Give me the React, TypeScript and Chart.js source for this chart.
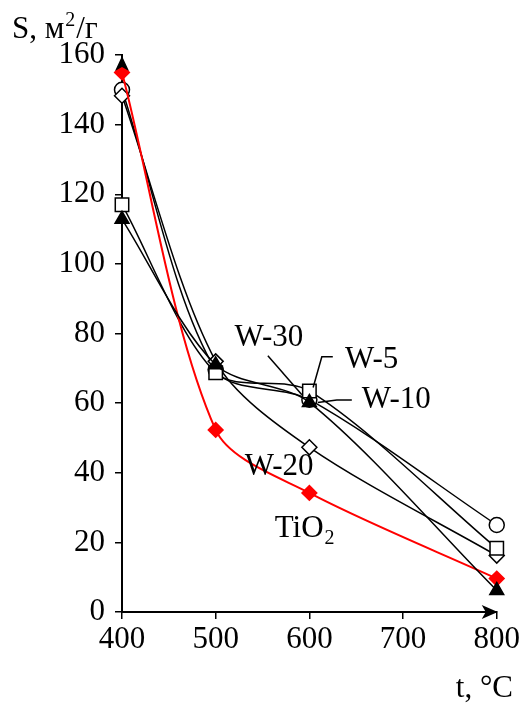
import React, { useEffect, useRef } from "react";
import { Chart, registerables } from "chart.js";

Chart.register(...registerables);

// Calcination temperature, °C
const temps = [400, 500, 600, 800];
// Specific surface area, m²/g
const tio2 = [155, 52.3, 34.2, 9.6];
const w5 = [117, 68.7, 63.5, 18.3];
const w10 = [112.8, 71, 60.2, 6.2];
const w20 = [148.3, 72, 47.3, 16.2];
const w30 = [150, 69.5, 61, 25];

const xTicks = [400, 500, 600, 700, 800];
const yTicks = [0, 20, 40, 60, 80, 100, 120, 140, 160];

// Series labels, anchored in data units (left edge, baseline)
const seriesLabels = [
  { text: "W-30", x: 520, y: 76.5 },
  { text: "W-5", x: 638, y: 70 },
  { text: "W-10", x: 656, y: 58.6 },
  { text: "W-20", x: 531, y: 39.4 },
];
const tioLabel = { x: 563, y: 21.6 };

// Leader lines from labels to the 600 °C points, in data units
const leaders = [
  [[555.7, 73.6], [592, 62.4]],
  [[625, 73.3], [613.3, 73.3], [604, 64.5]],
  [[645.3, 60.9], [629.3, 60.9], [609, 60.2]],
];

const FONT = '"Liberation Serif", "Times New Roman", serif';
const FS = 31;

const pts = (ys: number[]) => temps.map((t, i) => ({ x: t, y: ys[i] }));

const decorations = {
  id: "decorations",
  afterDatasetsDraw(chart: any) {
    const { ctx, scales } = chart;
    const xs = scales.x;
    const ys = scales.y;
    const px = (v: number) => xs.getPixelForValue(v);
    const py = (v: number) => ys.getPixelForValue(v);
    ctx.save();
    ctx.strokeStyle = "#000";
    ctx.lineWidth = 1.5;
    for (const l of leaders) {
      ctx.beginPath();
      l.forEach((p: number[], i: number) => {
        if (i === 0) ctx.moveTo(px(p[0]), py(p[1]));
        else ctx.lineTo(px(p[0]), py(p[1]));
      });
      ctx.stroke();
    }
    ctx.fillStyle = "#000";
    ctx.font = `${FS}px ${FONT}`;
    ctx.textAlign = "left";
    ctx.textBaseline = "alphabetic";
    for (const s of seriesLabels) ctx.fillText(s.text, px(s.x), py(s.y));
    // TiO2 with subscript
    const tx = px(tioLabel.x);
    const ty = py(tioLabel.y);
    ctx.fillText("TiO", tx, ty);
    const w = ctx.measureText("TiO").width;
    ctx.font = `${Math.round(FS * 0.65)}px ${FONT}`;
    ctx.fillText("2", tx + w + 1, ty + 7);
    ctx.restore();
  },
  afterDraw(chart: any) {
    const { ctx, chartArea } = chart;
    const { left, right, top, bottom } = chartArea;
    ctx.save();
    ctx.fillStyle = "#000";
    // arrow heads on the axes
    ctx.beginPath();
    ctx.moveTo(left, top + 1);
    ctx.lineTo(left - 7, top + 16);
    ctx.lineTo(left, top + 12);
    ctx.lineTo(left + 7, top + 16);
    ctx.closePath();
    ctx.fill();
    ctx.beginPath();
    ctx.moveTo(right + 1, bottom);
    ctx.lineTo(right - 15, bottom - 7);
    ctx.lineTo(right - 11, bottom);
    ctx.lineTo(right - 15, bottom + 7);
    ctx.closePath();
    ctx.fill();
    // axis titles
    ctx.font = `${FS}px ${FONT}`;
    ctx.textAlign = "left";
    ctx.textBaseline = "alphabetic";
    let x = 12;
    const by = 38;
    ctx.fillText("S, м", x, by);
    x += ctx.measureText("S, м").width + 1;
    ctx.font = `${Math.round(FS * 0.65)}px ${FONT}`;
    ctx.fillText("2", x, by - 12);
    x += ctx.measureText("2").width + 1;
    ctx.font = `${FS}px ${FONT}`;
    ctx.fillText("/г", x, by);
    ctx.textAlign = "right";
    ctx.fillText("t, °C", 513, 697);
    ctx.restore();
  },
};

export default function App() {
  const ref = useRef<HTMLCanvasElement | null>(null);
  useEffect(() => {
    if (!ref.current) return;
    const open = (style: string, r: number, order: number) => ({
      borderColor: "#000",
      borderWidth: 1.5,
      pointStyle: style,
      pointRadius: r,
      pointBackgroundColor: "#fff",
      pointBorderColor: "#000",
      pointBorderWidth: 1.5,
      tension: 0.3,
      clip: false as const,
      order,
    });
    const chart = new Chart(ref.current, {
      type: "line",
      data: {
        datasets: [
          { label: "W-5", data: pts(w5), ...open("rect", 9.5, 3) },
          { label: "W-30", data: pts(w30), ...open("circle", 7.5, 5) },
          { label: "W-20", data: pts(w20), ...open("rectRot", 7.5, 4) },
          {
            label: "TiO2",
            data: pts(tio2),
            borderColor: "#ff0000",
            borderWidth: 2,
            pointStyle: "rectRot",
            pointRadius: 7,
            pointBackgroundColor: "#ff0000",
            pointBorderColor: "#ff0000",
            tension: 0.3,
            clip: false,
            order: 2,
          },
          {
            label: "W-10",
            data: pts(w10),
            borderColor: "#000",
            borderWidth: 1.5,
            pointStyle: "triangle",
            pointRadius: 8,
            pointBackgroundColor: "#000",
            pointBorderColor: "#000",
            tension: 0.3,
            clip: false,
            order: 1,
          },
        ],
      },
      options: {
        responsive: false,
        animation: false,
        events: [],
        layout: { padding: { left: 0, top: 55, right: 25, bottom: 0 } },
        plugins: { legend: { display: false }, tooltip: { enabled: false } },
        scales: {
          x: {
            type: "linear",
            min: 400,
            max: 800,
            afterBuildTicks: (s: any) => {
              s.ticks = xTicks.map((v) => ({ value: v }));
            },
            afterFit: (s: any) => {
              s.height = 92;
            },
            grid: {
              drawOnChartArea: false,
              drawTicks: true,
              tickLength: 7,
              color: "#000",
              lineWidth: 1.5,
            },
            border: { color: "#000", width: 2 },
            ticks: {
              color: "#000",
              font: { family: FONT, size: FS },
              padding: 2,
              maxRotation: 0,
              autoSkip: false,
            },
          },
          y: {
            min: 0,
            max: 160,
            afterBuildTicks: (s: any) => {
              s.ticks = yTicks.map((v) => ({ value: v }));
            },
            afterFit: (s: any) => {
              s.width = 122;
            },
            grid: {
              drawOnChartArea: false,
              drawTicks: true,
              tickLength: 7,
              color: "#000",
              lineWidth: 1.5,
            },
            border: { color: "#000", width: 2 },
            ticks: {
              color: "#000",
              font: { family: FONT, size: FS },
              padding: 10,
              autoSkip: false,
            },
          },
        },
      },
      plugins: [decorations],
    });
    return () => chart.destroy();
  }, []);
  return (
    <div style={{ position: "fixed", left: 0, top: 0, width: 522, height: 704, background: "#fff" }}>
      <canvas ref={ref} width={522} height={704} />
    </div>
  );
}
